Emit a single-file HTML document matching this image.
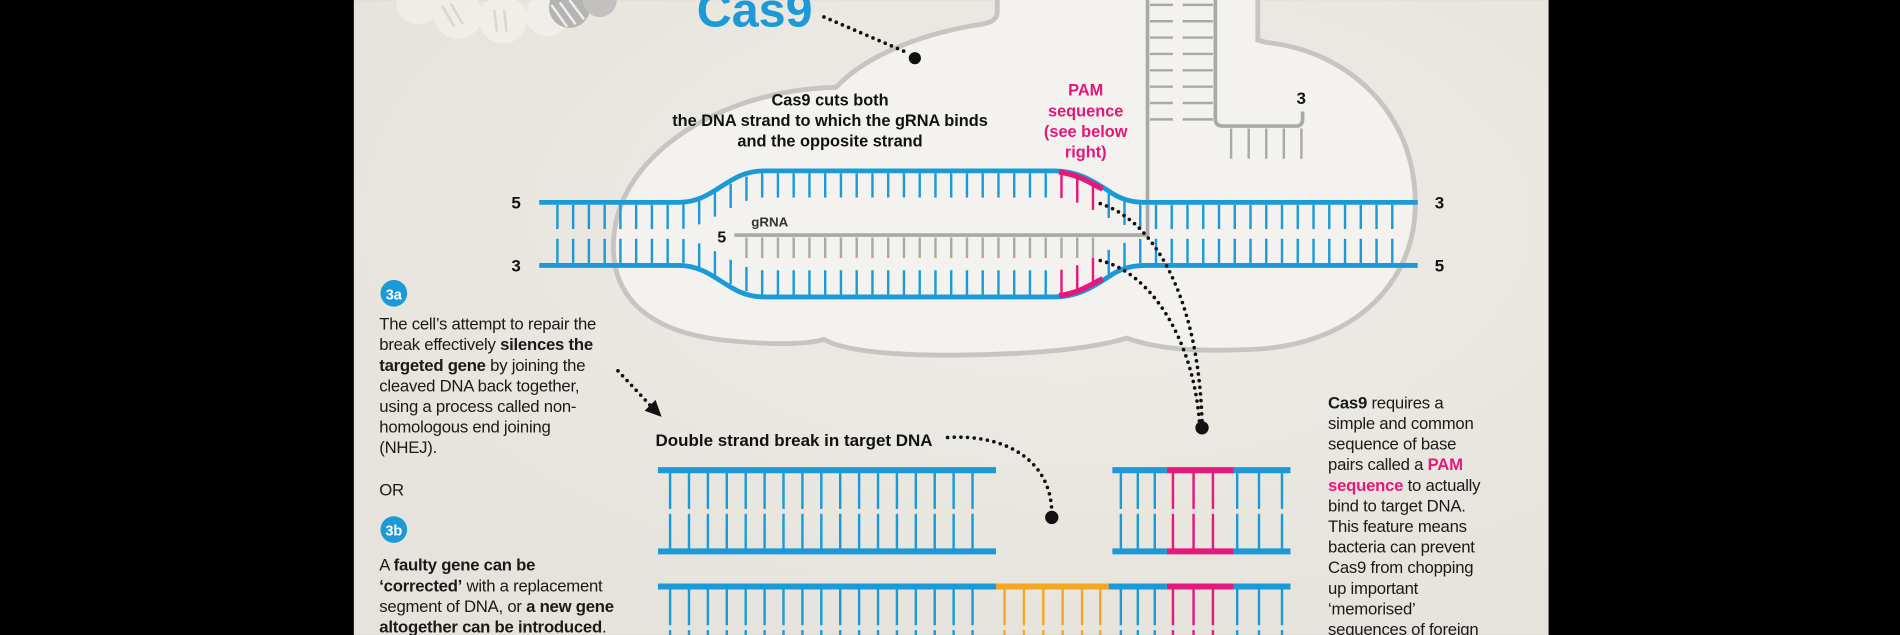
<!DOCTYPE html>
<html><head><meta charset="utf-8"><style>
html,body{margin:0;padding:0;background:#000;}
svg{display:block;}
text{font-family:"Liberation Sans",sans-serif;}
.n{font-family:"Liberation Sans Narrow","Liberation Sans",sans-serif;font-size:13.8px;fill:#1a1a1a;letter-spacing:-0.2px;}
.b{font-weight:bold;}
</style></head><body>
<svg id="s" width="1900" height="635" viewBox="0 0 1568 524" xmlns="http://www.w3.org/2000/svg">
<defs>
<radialGradient id="bg" cx="0.6" cy="0.35" r="0.7">
<stop offset="0" stop-color="#efede8"/><stop offset="1" stop-color="#e6e3dc"/>
</radialGradient>
</defs>
<rect x="0" y="0" width="1568" height="524" fill="#000"/>
<rect x="292" y="0" width="986" height="524" fill="url(#bg)"/>
<!-- faded helix top-left -->
<g fill="#f1efea" opacity="0.9">
<circle cx="345" cy="2" r="18"/><circle cx="378" cy="12" r="20"/><circle cx="415" cy="16" r="20"/><circle cx="452" cy="12" r="18"/>
</g>
<circle cx="470" cy="6" r="17" fill="#b5b4b2"/><circle cx="495" cy="0" r="14" fill="#c2c1bf"/>
<g stroke="#d8d6d1" stroke-width="2"><line x1="365" y1="5" x2="375" y2="22"/><line x1="372" y1="3" x2="382" y2="20"/><line x1="408" y1="8" x2="410" y2="26"/><line x1="416" y1="8" x2="418" y2="26"/></g>
<g stroke="#eeeeee" stroke-width="2"><line x1="455" y1="4" x2="468" y2="22"/><line x1="462" y1="2" x2="475" y2="20"/><line x1="470" y1="0" x2="482" y2="16"/></g>
<!-- blob -->
<path d="M823,-5 L823,10 Q823,18 810,20 C770,26 718,42 690,72 C600,74 520,122 508,185 C498,240 530,274 600,281 C640,285 668,284 680,280 C700,292 760,295 830,292 C880,290 910,285 930,279 C960,290 1000,290 1040,288 C1120,282 1168,232 1168,168 C1168,92 1112,42 1045,35 L1038,33 L1038,-5 Z" fill="#f4f2ee" stroke="#c7c5c1" stroke-width="4"/>
<!-- Cas9 title -->
<text x="575" y="22" font-size="40" font-weight="bold" fill="#1b9ad7">Cas9</text>
<line x1="680" y1="14" x2="750" y2="44" stroke="#111" stroke-width="3" stroke-linecap="round" stroke-dasharray="0 5.5"/>
<circle cx="755" cy="48" r="5" fill="#111"/>
<!-- texts in blob -->
<g font-size="13.5" font-weight="bold" fill="#111" text-anchor="middle">
<text x="685" y="87">Cas9 cuts both</text>
<text x="685" y="104">the DNA strand to which the gRNA binds</text>
<text x="685" y="121">and the opposite strand</text>
</g>
<g font-size="13.5" font-weight="bold" fill="#e0187a" text-anchor="middle">
<text x="896" y="79">PAM</text><text x="896" y="96">sequence</text><text x="896" y="113">(see below</text><text x="896" y="130">right)</text>
</g>
<!-- gRNA structure -->
<g stroke="#a9a9a9" stroke-width="3" fill="none">
<path d="M947,-5 L947,194 L606,194"/>
<path d="M1003,-5 L1003,98 Q1003,104 1009,104 L1070,104 Q1075,104 1075,98 L1075,92"/>
</g>
<g id="grna" stroke="#a9a9a9" stroke-width="2"></g>
<text x="1070" y="86" font-size="14" font-weight="bold" fill="#111">3</text>
<text x="620" y="187" font-size="11" font-weight="bold" fill="#333">gRNA</text>
<text x="592" y="200" font-size="13" font-weight="bold" fill="#111">5</text>
<!-- rungs -->
<g id="rungs" stroke-width="2"></g>
<!-- strands -->
<path d="M445,167 L560,167 C590,167 600,141 630,141 L870,141 C890,141 903,150 914,157 C925,165 935,167 945,167 L1170,167" stroke="#1b9ad7" stroke-width="4" fill="none"/>
<path d="M445,219 L560,219 C590,219 600,245 630,245 L870,245 C890,245 903,236 914,229 C925,221 935,219 945,219 L1170,219" stroke="#1b9ad7" stroke-width="4" fill="none"/>
<path d="M874,142 C890,144 900,151 910,156" stroke="#e3197c" stroke-width="4.5" fill="none"/>
<path d="M874,244 C890,242 900,235 910,230" stroke="#e3197c" stroke-width="4.5" fill="none"/>
<g font-size="14" font-weight="bold" fill="#111">
<text x="422" y="172">5</text><text x="422" y="224">3</text><text x="1184" y="172">3</text><text x="1184" y="224">5</text>
</g>
<!-- dotted connectors -->
<g stroke="#111" stroke-width="3" stroke-linecap="round" stroke-dasharray="0 5.5" fill="none">
<path d="M908,168 C960,185 990,260 992,350"/>
<path d="M908,215 C950,225 985,280 990,350"/>
<path d="M510,306 L538,336"/>
<path d="M782,361 C830,358 868,380 868,424"/>
</g>
<circle cx="992" cy="353" r="5.5" fill="#111"/>
<circle cx="868" cy="427" r="5.5" fill="#111"/>
<polygon points="546,344 532,339 541,330" fill="#111"/>
<!-- left column -->
<circle cx="325" cy="242" r="11" fill="#1b9ad7"/><text x="325" y="247" font-size="12" font-weight="bold" fill="#fff" text-anchor="middle">3a</text>
<circle cx="325" cy="437" r="11" fill="#1b9ad7"/><text x="325" y="442" font-size="12" font-weight="bold" fill="#fff" text-anchor="middle">3b</text>
<g class="n">
<text x="313" y="272">The cell’s attempt to repair the</text>
<text x="313" y="289">break effectively <tspan class="b">silences the</tspan></text>
<text x="313" y="306"><tspan class="b">targeted gene</tspan> by joining the</text>
<text x="313" y="323">cleaved DNA back together,</text>
<text x="313" y="340">using a process called non-</text>
<text x="313" y="357">homologous end joining</text>
<text x="313" y="374">(NHEJ).</text>
<text x="313" y="409">OR</text>
<text x="313" y="471">A <tspan class="b">faulty gene can be</tspan></text>
<text x="313" y="488"><tspan class="b">‘corrected’</tspan> with a replacement</text>
<text x="313" y="505">segment of DNA, or <tspan class="b">a new gene</tspan></text>
<text x="313" y="522"><tspan class="b">altogether can be introduced</tspan>.</text>
</g>
<text x="541" y="368" font-size="14" font-weight="bold" fill="#111">Double strand break in target DNA</text>
<!-- right column -->
<g class="n">
<text x="1096" y="337"><tspan class="b">Cas9</tspan> requires a</text>
<text x="1096" y="354">simple and common</text>
<text x="1096" y="371">sequence of base</text>
<text x="1096" y="388">pairs called a <tspan class="b" fill="#e3197c">PAM</tspan></text>
<text x="1096" y="405"><tspan class="b" fill="#e3197c">sequence</tspan> to actually</text>
<text x="1096" y="422">bind to target DNA.</text>
<text x="1096" y="439">This feature means</text>
<text x="1096" y="456">bacteria can prevent</text>
<text x="1096" y="473">Cas9 from chopping</text>
<text x="1096" y="490">up important</text>
<text x="1096" y="507">‘memorised’</text>
<text x="1096" y="524">sequences of foreign</text>
</g>
<g id="bot"></g>
</svg>
<script>
var NS="http://www.w3.org/2000/svg";
function L(g,x1,y1,x2,y2,c,w){var l=document.createElementNS(NS,"line");l.setAttribute("x1",x1);l.setAttribute("y1",y1);l.setAttribute("x2",x2);l.setAttribute("y2",y2);l.setAttribute("stroke",c);l.setAttribute("stroke-width",w||2);g.appendChild(l);}
var BL="#1b9ad7",PK="#e3197c",OR="#f5a623",GR="#a9a9a9";
function ss(t){t=Math.max(0,Math.min(1,t));return t*t*(3-2*t);}
function off(x){ if(x<560)return 0; if(x<630)return ss((x-560)/70); if(x<870)return 1; if(x<945)return 1-ss((x-870)/75); return 0;}
var r=document.getElementById("rungs");
for(var x=460;x<=1160;x+=13){
 var o=off(x),t=167-26*o,b=219+26*o;
 var c=(x>=872&&x<=912)?PK:BL;
 var len=20;
 L(r,x,t+2,x,t+2+len,c);
 L(r,x,b-2,x,b-2-len,c);
 if(x>606&&x<940&&o>0.5){L(r,x,196,x,213,GR);}
}
var g=document.getElementById("grna");
for(var i=0;i<8;i++){var y=4+i*13.5;L(g,949,y,968,y,GR);L(g,976,y,1001,y,GR);}
for(var j=0;j<5;j++){var xx=1016+j*14.5;L(g,xx,106,xx,131,GR);}
var bt=document.getElementById("bot");
function strand(x1,x2,y,c){L(bt,x1,y,x2,y,c,5);}
strand(543,822,388,BL);strand(543,822,455,BL);
for(var x=553;x<=818;x+=15.6){L(bt,x,390,x,420,BL);L(bt,x,424,x,453,BL);}
strand(918,963,388,BL);strand(963,1018,388,PK);strand(1018,1065,388,BL);
strand(918,963,455,BL);strand(963,1018,455,PK);strand(1018,1065,455,BL);
var rx=[925,939,953,968,985,1001,1021,1039,1058];
rx.forEach(function(x,k){var c=(k>=3&&k<=5)?PK:BL;L(bt,x,390,x,420,c);L(bt,x,424,x,453,c);});
strand(543,822,484,BL);strand(822,915,484,OR);strand(915,963,484,BL);strand(963,1018,484,PK);strand(1018,1065,484,BL);
for(var x=553;x<=818;x+=15.6){L(bt,x,486,x,516,BL);L(bt,x,520,x,530,BL);}
[829,845,861,877,893,908].forEach(function(x){L(bt,x,486,x,516,OR);L(bt,x,520,x,530,OR);});
rx.forEach(function(x,k){var c=(k>=3&&k<=5)?PK:BL;L(bt,x,486,x,516,c);L(bt,x,520,x,530,c);});
</script>
</body></html>
